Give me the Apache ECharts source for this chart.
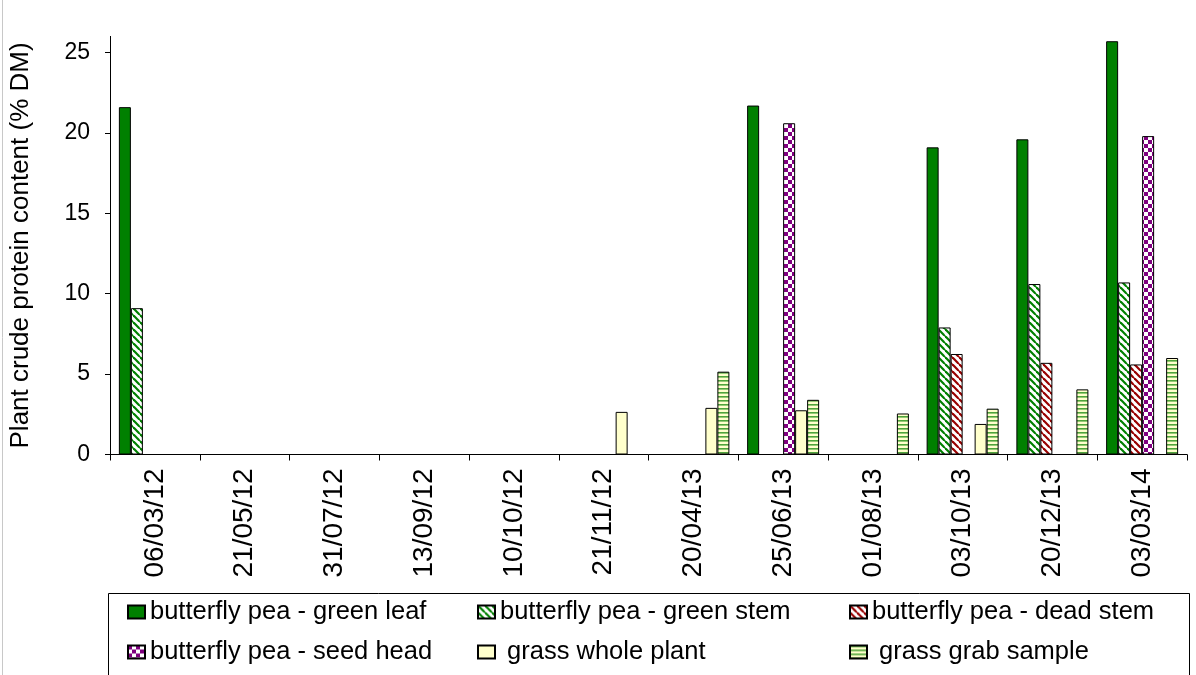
<!DOCTYPE html>
<html>
<head>
<meta charset="utf-8">
<script src="https://cdn.jsdelivr.net/npm/echarts@6/dist/echarts.min.js"></script>
<style>
  html, body { margin: 0; padding: 0; background: #fff; }
  #chart { width: 1196px; height: 675px; }
</style>
</head>
<body>
<div id="chart"></div>
<script>
// Sampling dates (category axis)
const categories = ['06/03/12', '21/05/12', '31/07/12', '13/09/12', '10/10/12', '21/11/12',
                    '20/04/13', '25/06/13', '01/08/13', '03/10/13', '20/12/13', '03/03/14'];

// Crude protein (% DM) per plant fraction; null = not sampled
const greenLeaf  = [21.6, null, null, null, null, null, null, 21.7, null, 19.1, 19.6, 25.7];
const greenStem  = [9.1,  null, null, null, null, null, null, null, null, 7.9, 10.6, 10.7];
const deadStem   = [null, null, null, null, null, null, null, null, null, 6.25, 5.7, 5.6];
const seedHead   = [null, null, null, null, null, null, null, 20.6, null, null, null, 19.8];
const wholePlant = [null, null, null, null, null, 2.65, 2.9, 2.75, null, 1.9, null, null];
const grabSample = [null, null, null, null, null, null, 5.15, 3.4, 2.55, 2.85, 4.05, 6.0];

const seriesNames = ['butterfly pea - green leaf', 'butterfly pea - green stem', 'butterfly pea - dead stem',
                     'butterfly pea - seed head', 'grass whole plant', 'grass grab sample'];

// Y axis tick values
const yTicks = [0, 5, 10, 15, 20, 25];

const FONT = '"Liberation Sans", Arial, sans-serif';

// ---- fill patterns ----
function makeCanvas(w, h) {
  const c = document.createElement('canvas');
  c.width = w; c.height = h;
  return c;
}
function diagonalStripes(color) {
  const s = 7.5;
  const c = makeCanvas(s, s);
  const g = c.getContext('2d');
  g.fillStyle = '#fff';
  g.fillRect(0, 0, 8, 8);
  g.strokeStyle = color;
  g.lineWidth = 2.2;
  for (const k of [-s, 0, s]) {
    g.beginPath();
    g.moveTo(k - 1, -1);
    g.lineTo(k + s + 1, s + 1);
    g.stroke();
  }
  return { image: c, repeat: 'repeat' };
}
function checkerboard(color) {
  const q = 4;
  const c = makeCanvas(q * 2, q * 2);
  const g = c.getContext('2d');
  g.fillStyle = '#fff';
  g.fillRect(0, 0, q * 2, q * 2);
  g.fillStyle = color;
  g.fillRect(0, 0, q, q);
  g.fillRect(q, q, q, q);
  return { image: c, repeat: 'repeat' };
}
function horizontalLines(bg, color) {
  const c = makeCanvas(4, 4);
  const g = c.getContext('2d');
  g.fillStyle = bg;
  g.fillRect(0, 0, 4, 4);
  g.fillStyle = color;
  g.fillRect(0, 0, 4, 1.6);
  return { image: c, repeat: 'repeat' };
}

const fills = [
  '#008000',
  diagonalStripes('#008000'),
  diagonalStripes('#990000'),
  checkerboard('#800080'),
  '#ffffcc',
  horizontalLines('#ffffcc', '#4ea43a')
];
const seriesData = [greenLeaf, greenStem, deadStem, seedHead, wholePlant, grabSample];

const series = seriesNames.map((name, i) => ({
  name: name,
  type: 'bar',
  data: seriesData[i],
  barWidth: 12,
  barGap: '0%',
  itemStyle: { color: fills[i], borderColor: '#000', borderWidth: 1 }
}));

// legend laid out as a 3 x 2 grid
const legendPlaces = [
  [0, 127, 599], [1, 477, 599], [2, 849, 599],
  [3, 127, 639], [4, 477, 639], [5, 849, 639]
];
const legends = legendPlaces.map(([i, left, top]) => ({
  data: [seriesNames[i]],
  left: left,
  top: top,
  padding: 0,
  icon: 'rect',
  itemWidth: 17,
  itemHeight: 13,
  selectedMode: false,
  formatter: i >= 4 ? (n => ' ' + n) : undefined,
  textStyle: { fontFamily: FONT, fontSize: 25.5, lineHeight: 26, color: '#000' }
}));

const chart = echarts.init(document.getElementById('chart'), null, { renderer: 'canvas' });
chart.setOption({
  animation: false,
  backgroundColor: '#fff',
  grid: { left: 110, right: 9, top: 36.4, bottom: 220.5, containLabel: false, outerBoundsMode: 'none' },
  legend: legends,
  xAxis: {
    type: 'category',
    data: categories,
    boundaryGap: true,
    axisLine: { lineStyle: { color: '#000', width: 1 } },
    axisTick: { show: true, interval: 0, length: 6, lineStyle: { color: '#000' } },
    axisLabel: { interval: 0, rotate: 90, margin: 14, fontFamily: FONT, fontSize: 28, color: '#000' },
    splitLine: { show: false }
  },
  yAxis: {
    type: 'value',
    min: 0,
    max: 26,
    name: 'Plant crude protein content (% DM)',
    nameLocation: 'middle',
    nameGap: 76,
    nameTextStyle: { fontFamily: FONT, fontSize: 26, color: '#000' },
    axisLine: { show: true, lineStyle: { color: '#000', width: 1 } },
    axisTick: { show: true, length: 5, customValues: yTicks, lineStyle: { color: '#000' } },
    axisLabel: { customValues: yTicks, margin: 20, fontFamily: FONT, fontSize: 23, color: '#000' },
    splitLine: { show: false }
  },
  graphic: [
    { type: 'rect', shape: { x: 108.5, y: 593.5, width: 1081, height: 90 },
      style: { fill: 'none', stroke: '#000', lineWidth: 1 }, z: -1 },
    { type: 'line', shape: { x1: 2.5, y1: 0, x2: 2.5, y2: 675 },
      style: { stroke: '#c8c8c8', lineWidth: 1 } }
  ],
  series: series
});
</script>
</body>
</html>
